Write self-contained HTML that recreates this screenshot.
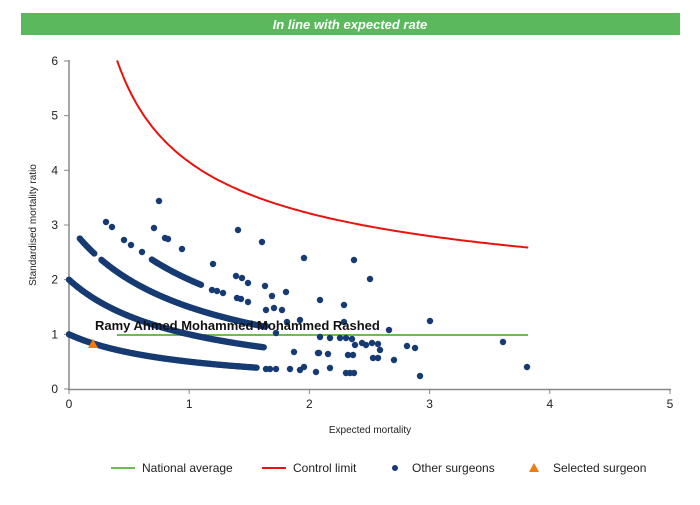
<!DOCTYPE html>
<html><head><meta charset="utf-8"><style>
body{margin:0;background:#fff;width:700px;height:500px;overflow:hidden;font-family:"Liberation Sans",sans-serif}
</style></head><body>
<svg id="s" width="700" height="500" xmlns="http://www.w3.org/2000/svg" font-family="Liberation Sans, sans-serif">
<rect x="21" y="13" width="659" height="22" fill="#5cb85c"/>
<text x="350" y="29" text-anchor="middle" fill="#fff" font-size="13" font-weight="bold" font-style="italic">In line with expected rate</text>
<g stroke="#888" stroke-width="1.5">
<line x1="69" y1="60" x2="69" y2="390"/>
<line x1="68" y1="389.5" x2="671" y2="389.5"/>
</g>
<g id="ticks" stroke="#888" stroke-width="1"></g>
<g font-size="12" fill="#222" text-anchor="end" id="yl"></g>
<g font-size="12" fill="#222" text-anchor="middle" id="xl"></g>
<text x="370" y="433" font-size="10" text-anchor="middle" fill="#222">Expected mortality</text>
<text transform="translate(36,225) rotate(-90)" font-size="10" text-anchor="middle" fill="#222">Standardised mortality ratio</text>
<path id="red" fill="none" stroke="#e8130f" stroke-width="2"/>
<line x1="117" y1="335" x2="528" y2="335" stroke="#6dbb55" stroke-width="2"/>
<g id="pts" fill="#163a72"></g>
<text x="95" y="330" font-size="13" font-weight="bold" fill="#111">Ramy Ahmed Mohammed Mohammed Rashed</text>
<polygon points="93,339 88,348 98,348" fill="#f07c10"/>
<line x1="111" y1="468" x2="135" y2="468" stroke="#6dbb55" stroke-width="2"/>
<text x="142" y="472" font-size="12" fill="#222">National average</text>
<line x1="262" y1="468" x2="286" y2="468" stroke="#e8130f" stroke-width="2"/>
<text x="293" y="472" font-size="12" fill="#222">Control limit</text>
<circle cx="395" cy="468" r="3" fill="#163a72"/>
<text x="412" y="472" font-size="12" fill="#222">Other surgeons</text>
<polygon points="534,463 529,472 539,472" fill="#f07c10"/>
<text x="553" y="472" font-size="12" fill="#222">Selected surgeon</text>
</svg>
<script>
var NS="http://www.w3.org/2000/svg";
function X(v){return 69+v*120.2}function Y(v){return 389-v*54.67}
function el(p,t,a,txt){var e=document.createElementNS(NS,t);for(var k in a)e.setAttribute(k,a[k]);if(txt!=null)e.textContent=txt;document.getElementById(p).appendChild(e);}
for(var i=0;i<=6;i++){el("ticks","line",{x1:64,x2:69,y1:Y(i),y2:Y(i)});el("yl","text",{x:58,y:Y(i)+4},i);}
for(var i=0;i<=5;i++){el("ticks","line",{x1:X(i),x2:X(i),y1:389,y2:394});el("xl","text",{x:X(i),y:408},i);}
var d="";for(var x=0.4;x<=3.821;x+=0.02){var y=0.95+3.2/Math.sqrt(x);d+=(d?"L":"M")+X(x).toFixed(1)+","+Y(y).toFixed(1);}
document.getElementById("red").setAttribute("d",d);
function c(px,py){el("pts","circle",{cx:px,cy:py,r:3.2});}
var curves=[[1,0,1.57],[2,0,1.63],[3,0.09,0.22],[3,0.27,1.63],[4,0.69,1.1]];
curves.forEach(function(k){for(var x=k[1];x<=k[2];x+=0.012){c(X(x),Y(k[0]/(1+x)));}});
[[159,201],[154,228],[182,249],[106,222],[112,227],[124,240],[131,245],[142,252],[165,238],[168,239],[212,290],[217,291],[223,293],[237,298],[241,299],[248,302],[213,264],[238,230],[262,242],[236,276],[242,278],[248,283],[265,286],[272,296],[274,308],[286,292],[304,258],[320,300],[266,310],[282,310],[287,322],[266,326],[276,333],[300,320],[344,305],[354,260],[370,279],[320,337],[330,338],[340,338],[344,322],[346,338],[352,339],[355,345],[362,343],[366,345],[372,343],[378,344],[380,350],[318,353],[328,354],[348,355],[353,355],[373,358],[378,358],[394,360],[389,330],[430,321],[415,348],[407,346],[503,342],[527,367],[346,373],[350,373],[354,373],[420,376],[290,369],[294,352],[300,370],[266,369],[270,369],[276,369],[304,367],[316,372],[330,368],[319,353]].forEach(function(p){c(p[0],p[1]);});
</script>
</body></html>
